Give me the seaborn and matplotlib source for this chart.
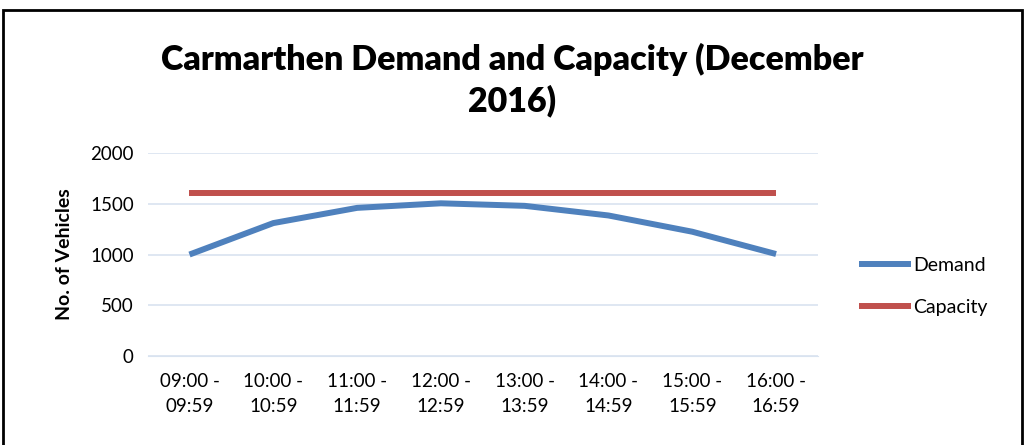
import matplotlib
matplotlib.use("Agg")
import matplotlib.pyplot as plt
import pandas as pd
import seaborn as sns
from matplotlib.patches import Rectangle

periods = ["09:00 -\n09:59", "10:00 -\n10:59", "11:00 -\n11:59", "12:00 -\n12:59",
           "13:00 -\n13:59", "14:00 -\n14:59", "15:00 -\n15:59", "16:00 -\n16:59"]
demand = [1000, 1310, 1460, 1505, 1480, 1385, 1225, 1005]
capacity = [1610, 1610, 1610, 1610, 1610, 1610, 1610, 1610]

sns.set_style("white")
plt.rcParams["font.family"] = ["Lato", "DejaVu Sans"]
plt.rcParams["text.color"] = "black"
plt.rcParams["xtick.color"] = "black"
plt.rcParams["ytick.color"] = "black"
plt.rcParams["axes.labelcolor"] = "black"

df = pd.DataFrame({
    "period": periods * 2,
    "vehicles": demand + capacity,
    "series": ["Demand"] * len(periods) + ["Capacity"] * len(periods),
})

fig = plt.figure(figsize=(10.25, 4.45), dpi=100)
ax = fig.add_axes([0.144, 0.2, 0.654, 0.456])

sns.lineplot(
    data=df, x="period", y="vehicles", hue="series",
    palette={"Demand": "#4f81bd", "Capacity": "#c0504d"},
    linewidth=4.3, ax=ax, sort=False,
)
for line in ax.lines:
    line.set_solid_capstyle("butt")

ax.set_xlim(-0.5, len(periods) - 0.5)
ax.set_ylim(0, 2000)
ax.set_yticks([0, 500, 1000, 1500, 2000])
ax.grid(axis="y", color="#d9e3f0", linewidth=1.2)
ax.set_axisbelow(True)
for s in ["top", "right", "left"]:
    ax.spines[s].set_visible(False)
ax.spines["bottom"].set_color("#d9e3f0")
ax.tick_params(axis="both", length=0, labelsize=13.5, pad=10)
ax.tick_params(axis="x", pad=12)
for t in ax.get_xticklabels():
    t.set_linespacing(1.6)

ax.set_xlabel("")
ax.set_ylabel("No. of Vehicles", fontsize=14, fontweight="bold", labelpad=12)

fig.suptitle("Carmarthen Demand and Capacity (December\n2016)", x=0.5, y=0.903,
             fontsize=24.5, fontweight="heavy", linespacing=1.3)

ax.legend(loc="center left", bbox_to_anchor=(1.035, 0.342), frameon=False,
          fontsize=14, handlelength=2.7, labelspacing=1.3, handletextpad=0.1)

fig.patches.append(Rectangle((0.003, -0.1), 0.994, 1.078, transform=fig.transFigure,
                             fill=False, edgecolor="black", linewidth=2))

fig.savefig("out.png", dpi=100)
